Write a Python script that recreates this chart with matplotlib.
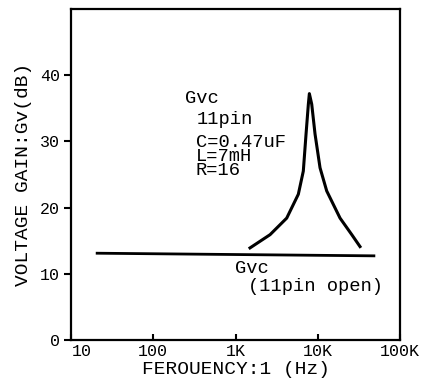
import matplotlib
matplotlib.use("Agg")
import matplotlib.pyplot as plt
import matplotlib.transforms as mtransforms

plt.rcParams['font.family'] = ['Liberation Mono', 'DejaVu Sans Mono']

# Gvc with 11pin open (flat line)
open_freq = [20, 50000]
open_gain = [13.1, 12.7]

# Gvc with 11pin LC resonance (C=0.47uF, L=7mH, R=16)
res_freq = [1500, 2630, 4190, 5800, 6670, 7200, 7680, 7900,
            8440, 9260, 10650, 12840, 18650, 25900, 32600]
res_gain = [13.9, 15.9, 18.4, 22.0, 25.5, 31.1, 35.6, 37.2,
            35.6, 31.1, 26.0, 22.5, 18.4, 15.9, 14.1]

x_ticks = [10, 100, 1000, 10000, 100000]
x_labels = ['10', '100', '1K', '10K', '100K']
y_ticks = [0, 10, 20, 30, 40]

fig = plt.figure(figsize=(4.29, 3.85), dpi=100)
ax = fig.add_axes([0.1655, 0.117, 0.767, 0.86])

ax.plot(open_freq, open_gain, color='black', linewidth=2.0, solid_capstyle='butt')
ax.plot(res_freq, res_gain, color='black', linewidth=2.2, solid_joinstyle='round')

ax.set_xscale('log')
ax.set_xlim(10, 100000)
ax.set_ylim(0, 50)
ax.set_xticks(x_ticks)
ax.set_xticklabels(x_labels)
ax.minorticks_off()
ax.set_yticks(y_ticks)

ax.tick_params(axis='x', direction='in', length=4, width=1.5, labelsize=12, pad=3)
ax.tick_params(axis='y', direction='out', length=5, width=1.5, labelsize=12, pad=3)

# the "10" label sits just right of the corner
first = ax.get_xticklabels()[0]
first.set_transform(first.get_transform() + mtransforms.ScaledTranslation(0.11, 0, fig.dpi_scale_trans))

for s in ax.spines.values():
    s.set_linewidth(1.6)

ax.set_xlabel('FEROUENCY:1 (Hz)', fontsize=14, labelpad=1)
ax.set_ylabel('VOLTAGE GAIN:Gv(dB)', fontsize=14, labelpad=6)

# annotations
txt = dict(fontsize=13.5, color='black', transform=ax.transData, ha='left')
ax.text(243, 36.4, 'Gvc', va='center', **txt)
ax.text(335, 33.3, '11pin', va='center', **txt)
ax.text(330, 27.7, 'C=0.47uF\nL=7mH\nR=16', va='center', linespacing=0.78, **txt)
ax.text(990, 10.75, 'Gvc', va='center', **txt)
ax.text(1400, 8.0, '(11pin open)', va='center', **txt)

fig.savefig('out.png', dpi=100)
